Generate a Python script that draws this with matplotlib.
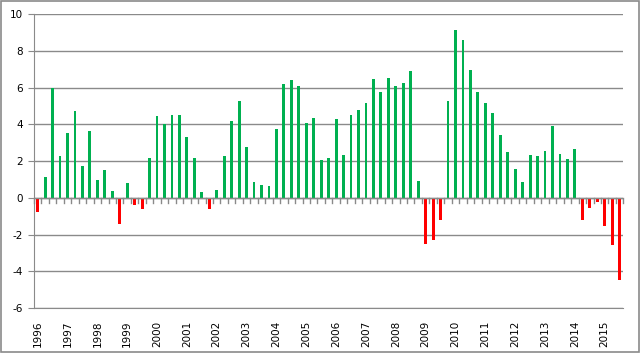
import matplotlib
matplotlib.use("Agg")
import matplotlib.pyplot as plt
from matplotlib.patches import Rectangle

plt.rcParams["axes.unicode_minus"] = False

years = list(range(1996, 2016))
values = [
    -0.8, 1.12, 6.0, 2.3, 3.55, 4.73, 1.72, 3.64, 0.96, 1.5,
    0.36, -1.41, 0.8, -0.38, -0.6, 2.14, 4.46, 4.02, 4.51, 4.51,
    3.33, 2.19, 0.31, -0.6, 0.42, 2.25, 4.18, 5.27, 2.74, 0.85,
    0.69, 0.63, 3.75, 6.18, 6.39, 6.09, 4.08, 4.35, 2.08, 2.14,
    4.29, 2.32, 4.51, 4.78, 5.14, 6.45, 5.76, 6.5, 6.09, 6.25,
    6.9, 0.91, -2.52, -2.3, -1.23, 5.27, 9.15, 8.57, 6.96, 5.76,
    5.16, 4.62, 3.42, 2.48, 1.56, 0.87, 2.32, 2.26, 2.57, 3.93,
    2.36, 2.1, 2.68, -1.2, -0.54, -0.25, -1.56, -2.59, -4.49,
]
quarters_per_year = 4
pos_color = "#00B050"
neg_color = "#FF0000"
grid_color = "#8a8a8a"

fig = plt.figure(figsize=(6.4, 3.53), dpi=100)
ax = fig.add_axes([0.053, 0.1275, 0.921, 0.8325])

n = len(values)
x = list(range(n))
colors = [pos_color if v >= 0 else neg_color for v in values]
ax.bar(x, values, width=0.38, color=colors, zorder=3)

ax.set_xlim(-0.5, n - 0.5)
ax.set_ylim(-6, 10)
ax.set_yticks(range(-6, 11, 2))
ax.yaxis.grid(True, color=grid_color, linewidth=1.0, zorder=0)
ax.set_axisbelow(True)

# zero axis line with category boundary ticks
ax.axhline(0, color=grid_color, linewidth=1.0, zorder=4)
for b in range(n + 1):
    ax.plot([b - 0.5, b - 0.5], [0, -0.27], color=grid_color, linewidth=1.0,
            zorder=4, clip_on=False)

ax.set_xticks([i * quarters_per_year for i in range(len(years))])
ax.set_xticklabels([str(y) for y in years], rotation=90, fontsize=7.5)
ax.tick_params(axis="x", length=0, pad=9)
ax.tick_params(axis="y", length=4, color=grid_color, labelsize=7.5, pad=4)

for side in ["top", "right"]:
    ax.spines[side].set_visible(False)
ax.spines["left"].set_color(grid_color)
ax.spines["bottom"].set_color(grid_color)

fig.patches.append(Rectangle((0.001, 0.002), 0.997, 0.995, transform=fig.transFigure,
                             fill=False, edgecolor="#8a8a8a", linewidth=1.2))

fig.savefig("out.png", dpi=100)
